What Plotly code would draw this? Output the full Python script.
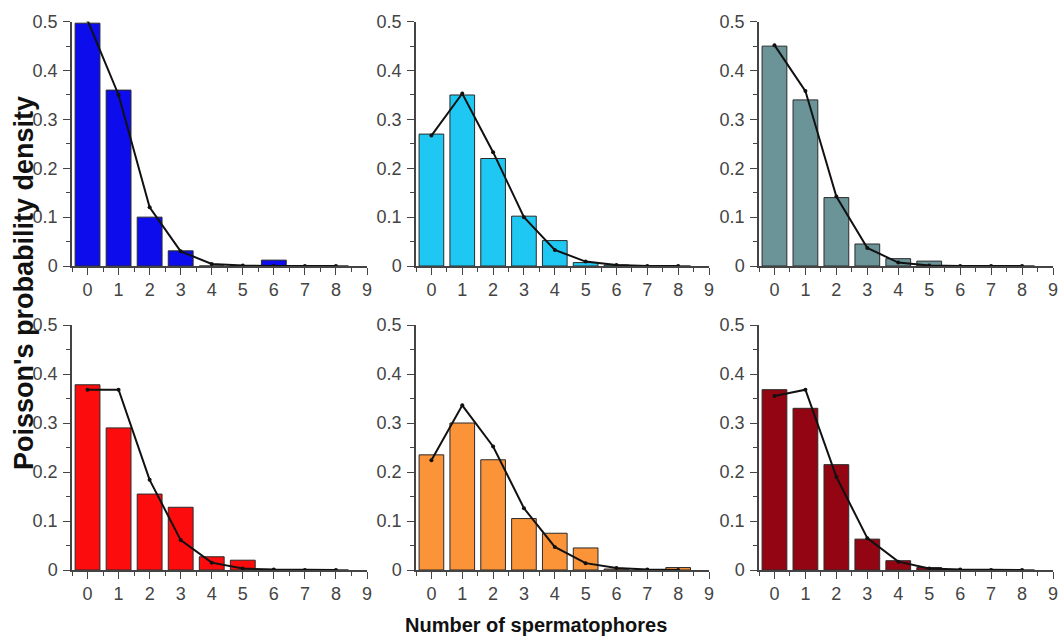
import plotly.graph_objects as go

counts = [0, 1, 2, 3, 4, 5, 6, 7, 8]

obs_1 = [0.497, 0.36, 0.10, 0.031, 0.0, 0.0, 0.012, 0.0, 0.0]
fit_1 = [0.503, 0.35, 0.12, 0.03, 0.004, 0.001, 0.0, 0.0, 0.0]
obs_2 = [0.27, 0.35, 0.22, 0.102, 0.052, 0.007, 0.002, 0.0, 0.0]
fit_2 = [0.267, 0.353, 0.233, 0.10, 0.033, 0.009, 0.002, 0.0, 0.0]
obs_3 = [0.45, 0.34, 0.14, 0.045, 0.015, 0.01, 0.0, 0.0, 0.0]
fit_3 = [0.452, 0.358, 0.142, 0.037, 0.007, 0.001, 0.0, 0.0, 0.0]
obs_4 = [0.378, 0.29, 0.155, 0.128, 0.027, 0.02, 0.0, 0.0, 0.0]
fit_4 = [0.368, 0.368, 0.184, 0.061, 0.015, 0.003, 0.001, 0.0, 0.0]
obs_5 = [0.235, 0.30, 0.225, 0.105, 0.075, 0.045, 0.002, 0.0, 0.005]
fit_5 = [0.224, 0.336, 0.252, 0.126, 0.047, 0.014, 0.004, 0.001, 0.0]
obs_6 = [0.368, 0.33, 0.215, 0.063, 0.019, 0.005, 0.0, 0.0, 0.0]
fit_6 = [0.355, 0.368, 0.19, 0.065, 0.017, 0.003, 0.001, 0.0, 0.0]

bar_colors = ["#0c0cec", "#1ec8f2", "#6b9499", "#fc0c0c", "#fb9339", "#930512"]
x_tick_labels = ["0", "1", "2", "3", "4", "5", "6", "7", "8", "9"]
y_tick_labels = ["0", "0.1", "0.2", "0.3", "0.4", "0.5"]

observed = [obs_1, obs_2, obs_3, obs_4, obs_5, obs_6]
fitted = [fit_1, fit_2, fit_3, fit_4, fit_5, fit_6]

W, H = 1062, 641
x_px = [(72, 367), (416, 709), (759, 1053)]
y_px = [(21.7, 266), (325, 570)]

fig = go.Figure()
layout = dict(
    width=W, height=H, autosize=False,
    margin=dict(l=0, r=0, t=0, b=0, pad=0),
    paper_bgcolor="white", plot_bgcolor="white",
    showlegend=False,
    font=dict(family="Liberation Sans, Arial, sans-serif", color="#444"),
    bargap=0.2,
)

axis_col = "#444444"
for i in range(6):
    r, c = divmod(i, 3)
    n = i + 1
    xa = "x" if n == 1 else f"x{n}"
    ya = "y" if n == 1 else f"y{n}"
    fig.add_trace(go.Bar(
        x=counts, y=observed[i], xaxis=xa, yaxis=ya, width=0.8,
        marker=dict(color=bar_colors[i], line=dict(color="#2a2a2a", width=1)),
    ))
    fig.add_trace(go.Scatter(
        x=counts, y=fitted[i], xaxis=xa, yaxis=ya, mode="lines+markers",
        line=dict(color="#111", width=2),
        marker=dict(color="#111", size=4),
    ))
    x0, x1 = x_px[c]
    y0, y1 = y_px[r]
    key_x = "xaxis" if n == 1 else f"xaxis{n}"
    key_y = "yaxis" if n == 1 else f"yaxis{n}"
    layout[key_x] = dict(
        domain=[x0 / W, x1 / W], anchor=ya, range=[-0.5, 9], automargin=False,
        tickmode="array", tickvals=list(range(10)), ticktext=x_tick_labels,
        ticks="outside", ticklen=7, tickwidth=1.3, tickcolor=axis_col,
        minor=dict(ticks="outside", ticklen=4, dtick=0.5, tick0=0, tickcolor=axis_col, tickwidth=1.3),
        showline=True, linecolor=axis_col, linewidth=1.5, showgrid=False, zeroline=False,
        tickfont=dict(size=18, color="#444"), ticklabelstandoff=0, fixedrange=True,
    )
    layout[key_y] = dict(
        domain=[1 - y1 / H, 1 - y0 / H], anchor=xa, range=[0, 0.5], automargin=False,
        tickmode="array", tickvals=[0, 0.1, 0.2, 0.3, 0.4, 0.5], ticktext=y_tick_labels,
        ticks="outside", ticklen=7, tickwidth=1.3, tickcolor=axis_col,
        minor=dict(ticks="outside", ticklen=4, dtick=0.05, tick0=0, tickcolor=axis_col, tickwidth=1.3),
        showline=True, linecolor=axis_col, linewidth=1.5, showgrid=False, zeroline=False,
        tickfont=dict(size=18, color="#444"), ticklabelstandoff=2, fixedrange=True,
    )

layout["annotations"] = [
    dict(text="<b>Poisson's probability density</b>", x=24 / W, y=1 - 283 / H,
         xref="paper", yref="paper", textangle=-90, showarrow=False,
         xanchor="center", yanchor="middle",
         font=dict(size=27, color="#111")),
    dict(text="<b>Number of spermatophores</b>", x=536 / W, y=1 - 625 / H,
         xref="paper", yref="paper", showarrow=False,
         xanchor="center", yanchor="middle",
         font=dict(size=20, color="#111")),
]
fig.update_layout(**layout)
fig.write_html("out.html")
